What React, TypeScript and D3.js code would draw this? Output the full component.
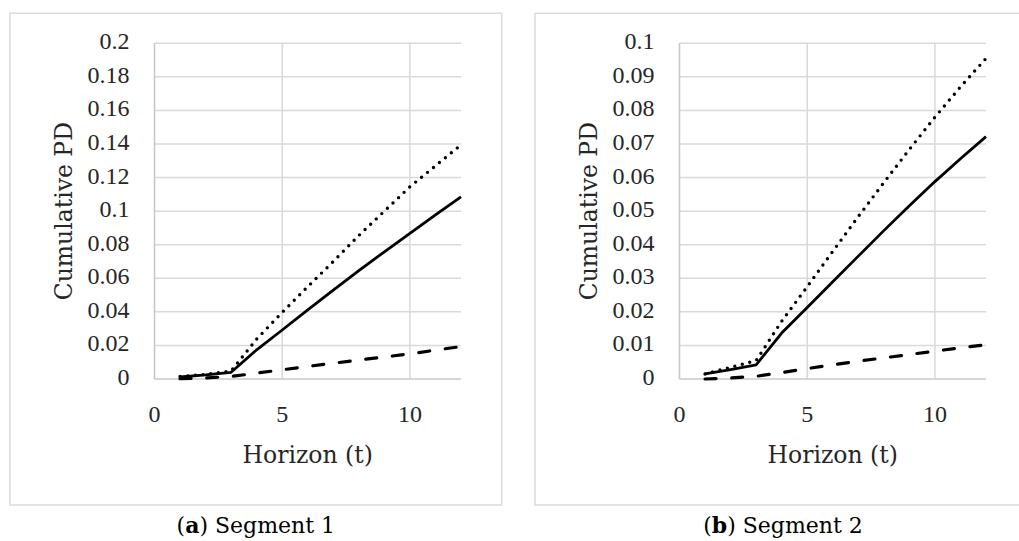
import React from "react";
import * as d3 from "d3";

// ---- data ----
const horizon = [1, 2, 3, 4, 5, 6, 7, 8, 9, 10, 11, 12];

const seg1Solid = [0.0012, 0.0024, 0.004, 0.0174, 0.0292, 0.0412, 0.053, 0.0645, 0.0758, 0.0868, 0.0978, 0.1085];
const seg1Dotted = [0.0015, 0.0027, 0.0048, 0.0238, 0.0397, 0.055, 0.07, 0.0855, 0.1, 0.1145, 0.127, 0.1395];
const seg1Dashed = [0.0002, 0.0006, 0.0015, 0.0035, 0.0055, 0.0075, 0.0094, 0.0113, 0.0131, 0.015, 0.0172, 0.0193];

const seg2Solid = [0.0015, 0.0028, 0.0042, 0.0137, 0.0213, 0.029, 0.0366, 0.0442, 0.0516, 0.0588, 0.0656, 0.0722];
const seg2Dotted = [0.0015, 0.0035, 0.0055, 0.0172, 0.0275, 0.038, 0.0484, 0.0585, 0.0684, 0.078, 0.087, 0.0955];
const seg2Dashed = [0.0, 0.0003, 0.0008, 0.0019, 0.0031, 0.0042, 0.0053, 0.0063, 0.0073, 0.0083, 0.0093, 0.0102];

const xTicks = [0, 5, 10];
const xTickLabels = ["0", "5", "10"];
const yTicks1 = [0, 0.02, 0.04, 0.06, 0.08, 0.1, 0.12, 0.14, 0.16, 0.18, 0.2];
const yTickLabels1 = ["0", "0.02", "0.04", "0.06", "0.08", "0.1", "0.12", "0.14", "0.16", "0.18", "0.2"];
const yTicks2 = [0, 0.01, 0.02, 0.03, 0.04, 0.05, 0.06, 0.07, 0.08, 0.09, 0.1];
const yTickLabels2 = ["0", "0.01", "0.02", "0.03", "0.04", "0.05", "0.06", "0.07", "0.08", "0.09", "0.1"];

const xTitle = "Horizon (t)";
const yTitle = "Cumulative PD";

const TICK_FONT = "'Liberation Serif', serif";
const TITLE_FONT = "'DejaVu Serif', serif";

type PanelProps = {
  px: number;
  pw: number;
  yMax: number;
  yTicks: number[];
  yLabels: string[];
  solid: number[];
  dotted: number[];
  dashed: number[];
  letter: string;
  segName: string;
};

function Panel({ px, pw, yMax, yTicks, yLabels, solid, dotted, dashed, letter, segName }: PanelProps) {
  const top = 13.3;
  const bottom = 505;
  const plotL = px + 144.5;
  const plotR = px + 451;
  const plotT = 43.3;
  const plotB = 379;
  const x = d3.scaleLinear().domain([0, 12]).range([plotL, plotR]);
  const y = d3.scaleLinear().domain([0, yMax]).range([plotB, plotT]);
  const line = d3
    .line<number>()
    .x((_, i) => x(horizon[i]))
    .y((d) => y(d))
    .curve(d3.curveLinear);
  const midX = (plotL + plotR) / 2;
  const midY = (plotT + plotB) / 2;
  return (
    <g>
      <rect x={px} y={top} width={pw} height={bottom - top} fill="#fff" stroke="#d9d9d9" strokeWidth={1.4} />
      {yTicks.map((t, i) =>
        i === 0 ? null : (
          <line key={"h" + i} x1={plotL} x2={plotR} y1={y(t)} y2={y(t)} stroke="#d9d9d9" strokeWidth={1.5} />
        )
      )}
      {xTicks.map((t, i) =>
        i === 0 ? null : (
          <line key={"v" + i} x1={x(t)} x2={x(t)} y1={plotT} y2={plotB} stroke="#d9d9d9" strokeWidth={1.5} />
        )
      )}
      <line x1={plotL} x2={plotL} y1={plotT} y2={plotB} stroke="#c8c8c8" strokeWidth={1.6} />
      <line x1={plotL} x2={plotR} y1={plotB} y2={plotB} stroke="#c8c8c8" strokeWidth={1.6} />
      {yTicks.map((t, i) => (
        <text key={"yl" + i} x={plotL - 25} y={y(t) + 6} textAnchor="end" fontFamily={TICK_FONT} fontSize={24} fill="#262626">
          {yLabels[i]}
        </text>
      ))}
      {xTicks.map((t, i) => (
        <text key={"xl" + i} x={x(t)} y={421.5} textAnchor="middle" fontFamily={TICK_FONT} fontSize={24} fill="#262626">
          {xTickLabels[i]}
        </text>
      ))}
      <text x={midX} y={463.3} textAnchor="middle" fontFamily={TITLE_FONT} fontSize={23.5} fill="#262626">
        {xTitle}
      </text>
      <text
        transform={`translate(${plotL - 82.6},${midY}) rotate(-90)`}
        textAnchor="middle"
        fontFamily={TITLE_FONT}
        fontSize={23.5}
        fill="#262626"
      >
        {yTitle}
      </text>
      <path d={line(dashed) || ""} fill="none" stroke="#000" strokeWidth={3.2} strokeDasharray="11 15.7" strokeLinecap="round" />
      <path d={line(dotted) || ""} fill="none" stroke="#000" strokeWidth={3.4} strokeDasharray="0 7.7" strokeLinecap="round" />
      <path d={line(solid) || ""} fill="none" stroke="#000" strokeWidth={2.8} strokeLinejoin="round" />
      <text x={px + pw / 2} y={533} textAnchor="middle" fontFamily={TITLE_FONT} fontSize={22} fill="#000">
        (<tspan fontWeight="bold">{letter}</tspan>) {segName}
      </text>
    </g>
  );
}

export default function App() {
  return (
    <svg
      width={1019}
      height={541}
      viewBox="0 0 1019 541"
      style={{ position: "absolute", left: 0, top: 0, background: "#fff" }}
    >
      <rect x={0} y={0} width={1019} height={541} fill="#fff" />
      <Panel
        px={10}
        pw={491.7}
        yMax={0.2}
        yTicks={yTicks1}
        yLabels={yTickLabels1}
        solid={seg1Solid}
        dotted={seg1Dotted}
        dashed={seg1Dashed}
        letter="a"
        segName="Segment 1"
      />
      <Panel
        px={535}
        pw={496}
        yMax={0.1}
        yTicks={yTicks2}
        yLabels={yTickLabels2}
        solid={seg2Solid}
        dotted={seg2Dotted}
        dashed={seg2Dashed}
        letter="b"
        segName="Segment 2"
      />
    </svg>
  );
}
